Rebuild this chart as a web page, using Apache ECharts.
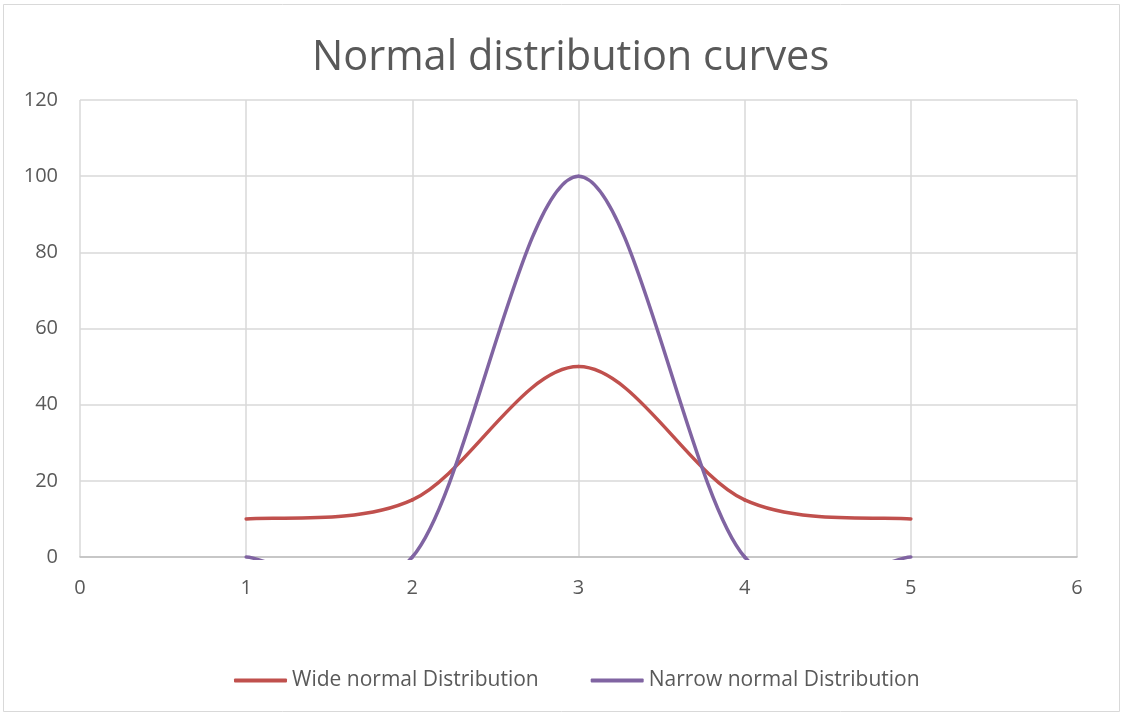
<!DOCTYPE html>
<html><head><meta charset="utf-8">
<script src="https://cdn.jsdelivr.net/npm/echarts@6/dist/echarts.min.js"></script>
<style>html,body{margin:0;padding:0;background:#fff}#c{width:1129px;height:717px}</style>
</head><body><div id="c"></div>
<script>
const xValues = [1, 2, 3, 4, 5];
const wideValues = [10, 15, 50, 15, 10];
const narrowValues = [0, 0, 100, 0, 0];
const seriesNames = ['Wide normal Distribution', 'Narrow normal Distribution'];
const titleText = 'Normal distribution curves';
const colors = ['#c0504d', '#8064a2'];

const font = '"Open Sans", "Liberation Sans", sans-serif';

// Excel-style smoothed scatter line: one cubic Bezier segment per data item,
// control points from neighbouring data points (Catmull-Rom, tension 1/6).
function smoothRender(color) {
  return function (params, api) {
    const i = params.dataIndexInside;
    const n = params.dataInsideLength;
    if (i >= n - 1) return null;
    const pt = (k) => {
      k = Math.max(0, Math.min(n - 1, k));
      return api.coord([api.value(0, k), api.value(1, k)]);
    };
    const p0 = pt(i - 1), p1 = pt(i), p2 = pt(i + 1), p3 = pt(i + 2);
    const cs = params.coordSys;
    return {
      type: 'bezierCurve',
      shape: {
        x1: p1[0], y1: p1[1], x2: p2[0], y2: p2[1],
        cpx1: p1[0] + (p2[0] - p0[0]) / 6, cpy1: p1[1] + (p2[1] - p0[1]) / 6,
        cpx2: p2[0] - (p3[0] - p1[0]) / 6, cpy2: p2[1] - (p3[1] - p1[1]) / 6
      },
      style: { stroke: color, lineWidth: 3.5, fill: null, lineCap: 'round' },
      clipPath: { type: 'rect', shape: { x: cs.x - 3, y: cs.y - 3, width: cs.width + 6, height: cs.height + 6 } }
    };
  };
}

const chart = echarts.init(document.getElementById('c'));
chart.setOption({
  backgroundColor: '#fff',
  animation: false,
  title: { text: titleText, left: 307, top: 32,
    textStyle: { fontFamily: font, fontSize: 41.5, fontWeight: 'normal', color: '#595959' } },
  graphic: [{ type: 'rect', shape: { x: 3.5, y: 4.5, width: 1116, height: 707 },
    style: { fill: 'none', stroke: '#d9d9d9', lineWidth: 1 }, silent: true }],
  legend: { bottom: 21, left: 229, itemWidth: 53, itemHeight: 4, itemGap: 52,
    textStyle: { fontFamily: font, fontSize: 21, color: '#595959' },
    data: seriesNames.map((s) => ({ name: s, icon: 'roundRect' })) },
  grid: { left: 80, right: 52, top: 100, bottom: 160, containLabel: false },
  xAxis: { type: 'value', min: 0, max: 6, interval: 1,
    axisLine: { show: true, onZero: false, lineStyle: { color: '#bfbfbf', width: 1.5 } },
    axisTick: { show: false },
    splitLine: { show: true, lineStyle: { color: '#d9d9d9', width: 1.5 } },
    axisLabel: { margin: 21, fontFamily: font, fontSize: 20, color: '#595959' } },
  yAxis: { type: 'value', min: 0, max: 120, interval: 20,
    axisLine: { show: false }, axisTick: { show: false },
    splitLine: { show: true, lineStyle: { color: '#d9d9d9', width: 1.5 } },
    axisLabel: { margin: 22, fontFamily: font, fontSize: 20, color: '#595959' } },
  series: [
    { name: seriesNames[0], type: 'custom', clip: false, z: 3,
      data: xValues.map((x, i) => [x, wideValues[i]]),
      encode: { x: 0, y: 1 },
      itemStyle: { color: colors[0] },
      renderItem: smoothRender(colors[0]) },
    { name: seriesNames[1], type: 'custom', clip: false, z: 4,
      data: xValues.map((x, i) => [x, narrowValues[i]]),
      encode: { x: 0, y: 1 },
      itemStyle: { color: colors[1] },
      renderItem: smoothRender(colors[1]) }
  ]
});
</script></body></html>
